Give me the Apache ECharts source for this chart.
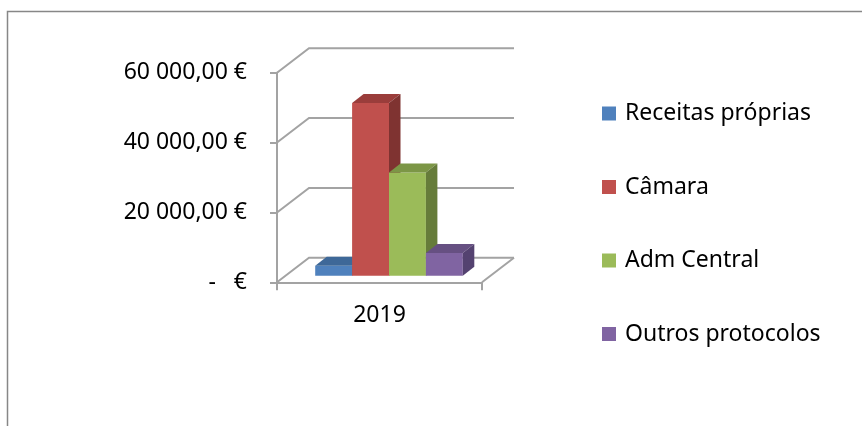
<!DOCTYPE html>
<html>
<head>
<meta charset="utf-8">
<script src="https://cdn.jsdelivr.net/npm/echarts@6/dist/echarts.min.js"></script>
<style>
  html, body { margin: 0; padding: 0; background: #fff; }
  #chart { width: 862px; height: 426px; }
</style>
</head>
<body>
<div id="chart"></div>
<script>
// data
const categories = ['2019'];
const seriesNames = ['Receitas próprias', 'Câmara', 'Adm Central', 'Outros protocolos'];
const seriesValues = [2850, 49500, 29600, 6500];
const yTicks = [0, 20000, 40000, 60000];

// front / top / side shades per series (Excel 2007 palette)
const FRONT = ['#4F81BD', '#C0504D', '#9BBB59', '#8064A2'];
const TOP = ['#3E6898', '#9A3D3B', '#7C9646', '#665082'];
const SIDE = ['#385D8A', '#7F3331', '#667C3A', '#544270'];
const GRID_GRAY = '#a3a3a3';
const FONT = 'Noto Sans';

// oblique depth of the walls and of the bars
const WALL_DX = 32, WALL_DY = -24.5;
const BAR_FX = 9.5, BAR_FY = -6.5;   // bars' front plane offset from axis plane
const BAR_DX = 11.5, BAR_DY = -9;    // bar depth
const BAR_FRAC = 0.18;               // bar width as share of category width

function fmtEuro(v) {
  if (v === 0) return '-   €';
  const s = String(Math.round(v)).replace(/\B(?=(\d{3})+(?!\d))/g, ' ');
  return s + ',00 €';
}

const chart = echarts.init(document.getElementById('chart'));

const wallSeries = {
  type: 'custom',
  name: '_walls',
  z: 1,
  silent: true,
  data: yTicks.map(v => [0, v]),
  encode: { x: 0, y: 1 },
  renderItem: (params, api) => {
    const p = api.coord([api.value(0), api.value(1)]);
    const w = api.size([1, 0])[0];
    const left = p[0] - w / 2, right = p[0] + w / 2, y = p[1];
    const style = { stroke: GRID_GRAY, lineWidth: 2, fill: null };
    const children = [{
      type: 'polyline',
      shape: { points: [[left, y], [left + WALL_DX, y + WALL_DY], [right + WALL_DX, y + WALL_DY]] },
      style,
    }];
    if (api.value(1) === 0) {
      children.push({
        type: 'line',
        shape: { x1: right, y1: y, x2: right + WALL_DX, y2: y + WALL_DY },
        style,
      });
    }
    return { type: 'group', children };
  },
};

const barSeries = seriesNames.map((name, i) => ({
  type: 'custom',
  name,
  z: 2,
  itemStyle: { color: FRONT[i] },
  data: [[0, seriesValues[i]]],
  encode: { x: 0, y: 1 },
  renderItem: (params, api) => {
    const top = api.coord([api.value(0), api.value(1)]);
    const base = api.coord([api.value(0), 0]);
    const w = api.size([1, 0])[0];
    const bw = w * BAR_FRAC;
    const x0 = top[0] - (seriesNames.length / 2) * bw + i * bw + BAR_FX;
    const x1 = x0 + bw;
    const yb = base[1] + BAR_FY;
    const yt = top[1] + BAR_FY;
    return {
      type: 'group',
      children: [
        { type: 'polygon', shape: { points: [[x0, yb], [x1, yb], [x1, yt], [x0, yt]] },
          style: { fill: FRONT[i] } },
        { type: 'polygon', shape: { points: [[x0, yt], [x1, yt], [x1 + BAR_DX, yt + BAR_DY], [x0 + BAR_DX, yt + BAR_DY]] },
          style: { fill: TOP[i] } },
        { type: 'polygon', shape: { points: [[x1, yb], [x1 + BAR_DX, yb + BAR_DY], [x1 + BAR_DX, yt + BAR_DY], [x1, yt]] },
          style: { fill: SIDE[i] } },
      ],
    };
  },
}));

chart.setOption({
  animation: false,
  graphic: [{
    type: 'rect',
    silent: true,
    shape: { x: 7.5, y: 11.5, width: 900, height: 500 },
    style: { fill: null, stroke: '#878787', lineWidth: 1.5 },
  }],
  grid: { left: 277, top: 72.7, width: 205, height: 209.6 },
  legend: {
    data: seriesNames,
    orient: 'vertical',
    left: 602,
    top: 102,
    padding: 0,
    icon: 'rect',
    itemWidth: 14,
    itemHeight: 14,
    itemGap: 50.5,
    textStyle: { color: '#000', fontSize: 23, fontFamily: FONT, lineHeight: 22, padding: [0, 0, 0, 4] },
  },
  xAxis: {
    type: 'category',
    data: categories,
    axisLine: { lineStyle: { color: GRID_GRAY, width: 2 } },
    axisTick: { show: true, length: 8, lineStyle: { color: GRID_GRAY, width: 2 } },
    axisLabel: { color: '#000', fontSize: 23, fontFamily: FONT, margin: 22 },
    splitLine: { show: false },
  },
  yAxis: {
    type: 'value',
    min: 0,
    max: 60000,
    interval: 20000,
    axisLine: { show: true, lineStyle: { color: GRID_GRAY, width: 2 } },
    axisTick: { show: true, length: 7, lineStyle: { color: GRID_GRAY, width: 2 } },
    axisLabel: { color: '#000', fontSize: 23, fontFamily: FONT, margin: 30, formatter: fmtEuro },
    splitLine: { show: false },
  },
  series: [wallSeries, ...barSeries],
});
</script>
</body>
</html>
